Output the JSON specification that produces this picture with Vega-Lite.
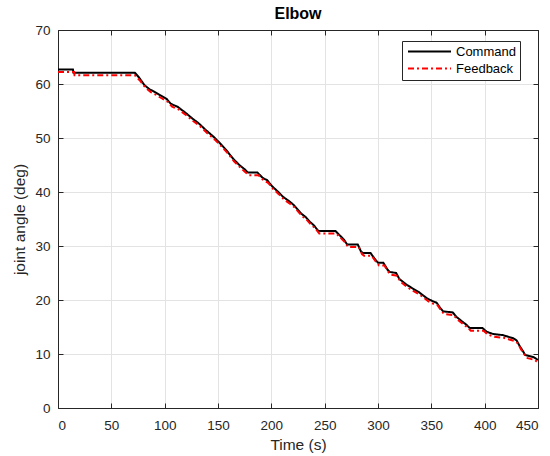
{
  "$schema": "https://vega.github.io/schema/vega-lite/v6.json",
  "width": 480,
  "height": 378,
  "autosize": {"type": "none"},
  "padding": {"left": 58, "top": 30, "right": 12, "bottom": 48},
  "background": "white",
  "title": {"text": "Elbow", "font": "Liberation Sans", "fontSize": 16, "fontWeight": "bold", "color": "#000000", "offset": 1},
  "config": {
    "view": {"stroke": "#262626", "strokeWidth": 1},
    "axis": {
      "labelFont": "Liberation Sans", "labelFontSize": 13.5, "labelColor": "#262626",
      "titleFont": "Liberation Sans", "titleFontSize": 15.5, "titleFontWeight": "normal", "titleColor": "#262626",
      "domainColor": "#262626", "tickColor": "#262626", "gridColor": "#e3e3e3", "gridWidth": 1
    }
  },
  "data": {"values": [
    {"t": 0, "v": 62.7, "s": "Command"}, {"t": 14, "v": 62.7, "s": "Command"}, {"t": 14.5, "v": 62.1, "s": "Command"},
    {"t": 72, "v": 62.1, "s": "Command"}, {"t": 76, "v": 61.2, "s": "Command"}, {"t": 81, "v": 59.8, "s": "Command"},
    {"t": 86, "v": 59.0, "s": "Command"}, {"t": 90, "v": 58.6, "s": "Command"}, {"t": 95, "v": 58.0, "s": "Command"},
    {"t": 102, "v": 57.2, "s": "Command"}, {"t": 106, "v": 56.3, "s": "Command"}, {"t": 112, "v": 55.8, "s": "Command"},
    {"t": 120, "v": 54.6, "s": "Command"}, {"t": 126, "v": 53.6, "s": "Command"}, {"t": 132, "v": 52.7, "s": "Command"},
    {"t": 139, "v": 51.4, "s": "Command"}, {"t": 146, "v": 50.2, "s": "Command"}, {"t": 152, "v": 49.0, "s": "Command"},
    {"t": 158, "v": 47.7, "s": "Command"}, {"t": 164, "v": 46.2, "s": "Command"}, {"t": 170, "v": 45.0, "s": "Command"},
    {"t": 175, "v": 44.2, "s": "Command"}, {"t": 178, "v": 43.6, "s": "Command"}, {"t": 187, "v": 43.6, "s": "Command"},
    {"t": 192, "v": 42.6, "s": "Command"}, {"t": 196, "v": 42.2, "s": "Command"}, {"t": 201, "v": 41.0, "s": "Command"},
    {"t": 206, "v": 40.1, "s": "Command"}, {"t": 211, "v": 39.1, "s": "Command"}, {"t": 216, "v": 38.4, "s": "Command"},
    {"t": 221, "v": 37.6, "s": "Command"}, {"t": 228, "v": 36.0, "s": "Command"}, {"t": 232, "v": 35.4, "s": "Command"},
    {"t": 236, "v": 34.5, "s": "Command"}, {"t": 240, "v": 33.8, "s": "Command"}, {"t": 244, "v": 32.8, "s": "Command"},
    {"t": 260, "v": 32.8, "s": "Command"}, {"t": 264, "v": 32.0, "s": "Command"}, {"t": 268, "v": 31.2, "s": "Command"},
    {"t": 271, "v": 30.3, "s": "Command"}, {"t": 281, "v": 30.3, "s": "Command"}, {"t": 284, "v": 29.0, "s": "Command"},
    {"t": 286, "v": 28.7, "s": "Command"}, {"t": 293, "v": 28.7, "s": "Command"}, {"t": 297, "v": 27.6, "s": "Command"},
    {"t": 300, "v": 26.9, "s": "Command"}, {"t": 305, "v": 26.9, "s": "Command"}, {"t": 309, "v": 25.6, "s": "Command"},
    {"t": 311, "v": 25.2, "s": "Command"}, {"t": 317, "v": 25.0, "s": "Command"}, {"t": 320, "v": 23.9, "s": "Command"},
    {"t": 327, "v": 22.8, "s": "Command"}, {"t": 332, "v": 22.2, "s": "Command"}, {"t": 338, "v": 21.5, "s": "Command"},
    {"t": 342, "v": 20.9, "s": "Command"}, {"t": 346, "v": 20.3, "s": "Command"}, {"t": 351, "v": 19.8, "s": "Command"},
    {"t": 355, "v": 19.5, "s": "Command"}, {"t": 358, "v": 18.6, "s": "Command"}, {"t": 361, "v": 17.9, "s": "Command"},
    {"t": 370, "v": 17.7, "s": "Command"}, {"t": 374, "v": 16.8, "s": "Command"}, {"t": 379, "v": 16.0, "s": "Command"},
    {"t": 383, "v": 15.4, "s": "Command"}, {"t": 386, "v": 14.8, "s": "Command"}, {"t": 398, "v": 14.8, "s": "Command"},
    {"t": 402, "v": 14.1, "s": "Command"}, {"t": 408, "v": 13.7, "s": "Command"}, {"t": 417, "v": 13.5, "s": "Command"},
    {"t": 422, "v": 13.2, "s": "Command"}, {"t": 427, "v": 12.9, "s": "Command"}, {"t": 430, "v": 12.5, "s": "Command"},
    {"t": 433, "v": 11.4, "s": "Command"}, {"t": 436, "v": 10.5, "s": "Command"}, {"t": 438, "v": 9.8, "s": "Command"},
    {"t": 446, "v": 9.4, "s": "Command"}, {"t": 450, "v": 8.9, "s": "Command"},
    {"t": 0, "v": 62.2, "s": "Feedback"}, {"t": 15, "v": 62.2, "s": "Feedback"}, {"t": 15.5, "v": 61.6, "s": "Feedback"},
    {"t": 72, "v": 61.6, "s": "Feedback"}, {"t": 77, "v": 60.6, "s": "Feedback"}, {"t": 82, "v": 59.3, "s": "Feedback"},
    {"t": 87, "v": 58.5, "s": "Feedback"}, {"t": 91, "v": 58.1, "s": "Feedback"}, {"t": 96, "v": 57.5, "s": "Feedback"},
    {"t": 103, "v": 56.7, "s": "Feedback"}, {"t": 107, "v": 55.8, "s": "Feedback"}, {"t": 113, "v": 55.3, "s": "Feedback"},
    {"t": 121, "v": 54.1, "s": "Feedback"}, {"t": 127, "v": 53.1, "s": "Feedback"}, {"t": 133, "v": 52.2, "s": "Feedback"},
    {"t": 140, "v": 50.9, "s": "Feedback"}, {"t": 147, "v": 49.7, "s": "Feedback"}, {"t": 153, "v": 48.5, "s": "Feedback"},
    {"t": 159, "v": 47.2, "s": "Feedback"}, {"t": 165, "v": 45.7, "s": "Feedback"}, {"t": 171, "v": 44.5, "s": "Feedback"},
    {"t": 176, "v": 43.6, "s": "Feedback"}, {"t": 179, "v": 43.1, "s": "Feedback"}, {"t": 188, "v": 43.1, "s": "Feedback"},
    {"t": 193, "v": 42.1, "s": "Feedback"}, {"t": 197, "v": 41.7, "s": "Feedback"}, {"t": 202, "v": 40.5, "s": "Feedback"},
    {"t": 207, "v": 39.6, "s": "Feedback"}, {"t": 212, "v": 38.6, "s": "Feedback"}, {"t": 217, "v": 37.9, "s": "Feedback"},
    {"t": 222, "v": 37.1, "s": "Feedback"}, {"t": 229, "v": 35.5, "s": "Feedback"}, {"t": 233, "v": 34.9, "s": "Feedback"},
    {"t": 237, "v": 34.0, "s": "Feedback"}, {"t": 241, "v": 33.3, "s": "Feedback"}, {"t": 245, "v": 32.3, "s": "Feedback"},
    {"t": 261, "v": 32.3, "s": "Feedback"}, {"t": 265, "v": 31.5, "s": "Feedback"}, {"t": 269, "v": 30.7, "s": "Feedback"},
    {"t": 272, "v": 29.8, "s": "Feedback"}, {"t": 282, "v": 29.8, "s": "Feedback"}, {"t": 285, "v": 28.5, "s": "Feedback"},
    {"t": 287, "v": 28.2, "s": "Feedback"}, {"t": 294, "v": 28.2, "s": "Feedback"}, {"t": 298, "v": 27.1, "s": "Feedback"},
    {"t": 301, "v": 26.4, "s": "Feedback"}, {"t": 306, "v": 26.4, "s": "Feedback"}, {"t": 310, "v": 25.1, "s": "Feedback"},
    {"t": 312, "v": 24.7, "s": "Feedback"}, {"t": 318, "v": 24.5, "s": "Feedback"}, {"t": 321, "v": 23.4, "s": "Feedback"},
    {"t": 328, "v": 22.3, "s": "Feedback"}, {"t": 333, "v": 21.7, "s": "Feedback"}, {"t": 339, "v": 21.0, "s": "Feedback"},
    {"t": 343, "v": 20.4, "s": "Feedback"}, {"t": 347, "v": 19.8, "s": "Feedback"}, {"t": 352, "v": 19.3, "s": "Feedback"},
    {"t": 356, "v": 19.0, "s": "Feedback"}, {"t": 359, "v": 18.1, "s": "Feedback"}, {"t": 362, "v": 17.4, "s": "Feedback"},
    {"t": 371, "v": 17.2, "s": "Feedback"}, {"t": 375, "v": 16.3, "s": "Feedback"}, {"t": 380, "v": 15.5, "s": "Feedback"},
    {"t": 384, "v": 14.9, "s": "Feedback"}, {"t": 387, "v": 14.3, "s": "Feedback"}, {"t": 399, "v": 14.3, "s": "Feedback"},
    {"t": 403, "v": 13.6, "s": "Feedback"}, {"t": 409, "v": 13.2, "s": "Feedback"}, {"t": 418, "v": 13.0, "s": "Feedback"},
    {"t": 423, "v": 12.7, "s": "Feedback"}, {"t": 428, "v": 12.4, "s": "Feedback"}, {"t": 431, "v": 12.0, "s": "Feedback"},
    {"t": 434, "v": 10.9, "s": "Feedback"}, {"t": 437, "v": 10.0, "s": "Feedback"}, {"t": 439, "v": 9.3, "s": "Feedback"},
    {"t": 447, "v": 8.9, "s": "Feedback"}, {"t": 450, "v": 8.4, "s": "Feedback"}
  ]},
  "layer": [
    {
      "mark": {"type": "line", "strokeWidth": 2, "clip": true},
      "encoding": {
        "x": {"field": "t", "type": "quantitative", "scale": {"domain": [0, 450], "nice": false},
              "axis": {"values": [0, 50, 100, 150, 200, 250, 300, 350, 400, 450], "title": "Time (s)", "grid": true, "tickSize": -5, "labelPadding": 15, "titlePadding": 6}},
        "y": {"field": "v", "type": "quantitative", "scale": {"domain": [0, 70], "nice": false},
              "axis": {"values": [0, 10, 20, 30, 40, 50, 60, 70], "title": "joint angle (deg)", "grid": true, "tickSize": -5, "labelPadding": 13, "titlePadding": 7}},
        "color": {"field": "s", "type": "nominal", "scale": {"domain": ["Command", "Feedback"], "range": ["#000000", "#ff0000"]},
                  "legend": {"title": null, "orient": "none", "legendX": 344, "legendY": 11, "strokeColor": "#262626", "fillColor": "white", "padding": 4,
                             "symbolType": "M-5,0H5", "symbolSize": 74, "symbolStrokeWidth": 2, "symbolOffset": 17, "labelExpr": "datum.label + '\u00a0\u00a0\u00a0'",
                             "labelFont": "Liberation Sans", "labelFontSize": 13, "labelColor": "#000000", "labelOffset": 20, "rowPadding": 3}},
        "strokeDash": {"field": "s", "type": "nominal", "scale": {"domain": ["Command", "Feedback"], "range": [[1, 0], [6, 3, 2, 3]]}, "legend": null}
      }
    },
    {
      "mark": {"type": "line", "opacity": 0},
      "encoding": {
        "x": {"field": "t", "type": "quantitative", "axis": {"orient": "top", "labels": false, "title": null, "grid": false, "tickSize": -5, "values": [0, 50, 100, 150, 200, 250, 300, 350, 400, 450]}},
        "y": {"field": "v", "type": "quantitative", "axis": {"orient": "right", "labels": false, "title": null, "grid": false, "tickSize": -5, "values": [0, 10, 20, 30, 40, 50, 60, 70]}}
      }
    }
  ],
  "resolve": {"axis": {"x": "independent", "y": "independent"}}
}
